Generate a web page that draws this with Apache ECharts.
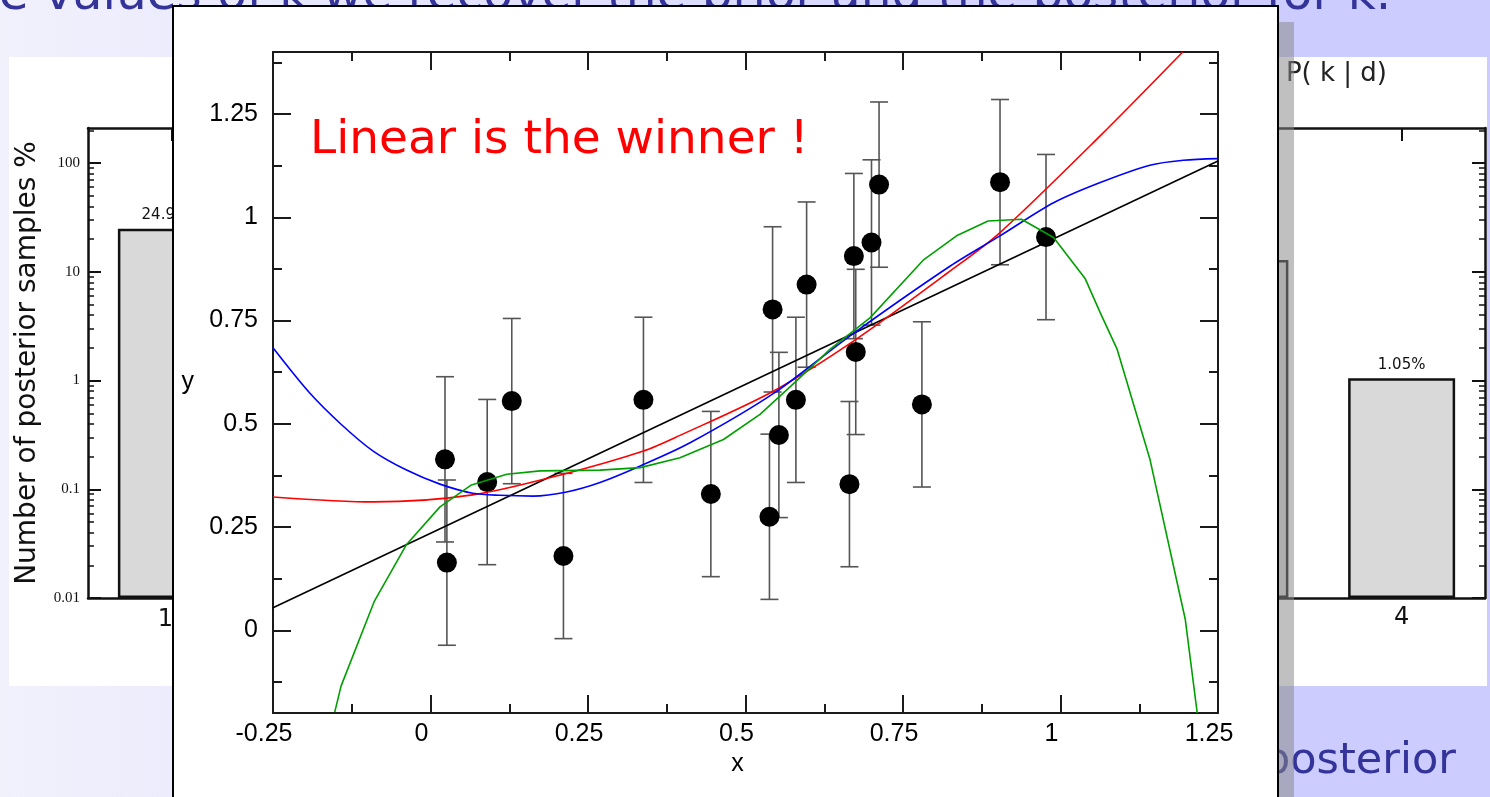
<!DOCTYPE html>
<html><head><meta charset="utf-8">
<script src="https://cdn.jsdelivr.net/npm/echarts@6/dist/echarts.min.js"></script>
<style>html,body{margin:0;padding:0;background:#fff}#c{width:1490px;height:797px}</style>
</head><body><div id="c"></div>
<script>
// ---- data ----
const pointX = [0.023, 0.026, 0.090, 0.129, 0.211, 0.338, 0.445, 0.538, 0.543, 0.553, 0.580, 0.597, 0.665, 0.672, 0.675, 0.700, 0.712, 0.780, 0.904, 0.977];
const pointY = [0.414, 0.164, 0.359, 0.555, 0.180, 0.558, 0.330, 0.275, 0.777, 0.473, 0.558, 0.837, 0.354, 0.906, 0.674, 0.939, 1.079, 0.547, 1.085, 0.952];
const pointErr = [0.2, 0.2, 0.2, 0.2, 0.2, 0.2, 0.2, 0.2, 0.2, 0.2, 0.2, 0.2, 0.2, 0.2, 0.2, 0.2, 0.2, 0.2, 0.2, 0.2];

const linearFit = [[-0.25, 0.055], [1.25, 1.136]];
const quadraticFit = [[-0.25, 0.323], [-0.09, 0.311], [0.067, 0.328], [0.211, 0.378], [0.338, 0.434], [0.396, 0.472], [0.544, 0.579], [0.676, 0.705], [0.825, 0.870], [0.904, 0.963], [1.063, 1.197], [1.194, 1.40]];
const cubicFit = [[-0.25, 0.684], [-0.192, 0.575], [-0.142, 0.499], [-0.091, 0.434], [-0.038, 0.388], [0.015, 0.354], [0.067, 0.332], [0.110, 0.327], [0.163, 0.325], [0.216, 0.335], [0.269, 0.358], [0.333, 0.398], [0.412, 0.454], [0.544, 0.573], [0.666, 0.713], [0.825, 0.882], [0.904, 0.955], [0.989, 1.035], [1.063, 1.084], [1.142, 1.126], [1.195, 1.138], [1.25, 1.142]];
const highOrderFit = [[-0.152, -0.198], [-0.142, -0.135], [-0.089, 0.071], [-0.038, 0.208], [0.015, 0.299], [0.065, 0.352], [0.121, 0.378], [0.174, 0.386], [0.269, 0.388], [0.333, 0.394], [0.396, 0.418], [0.465, 0.462], [0.523, 0.523], [0.581, 0.604], [0.634, 0.680], [0.698, 0.757], [0.782, 0.896], [0.835, 0.955], [0.885, 0.991], [0.938, 0.995], [0.989, 0.951], [1.039, 0.852], [1.063, 0.769], [1.090, 0.680], [1.142, 0.414], [1.198, 0.027], [1.217, -0.20]];

const yMajorTicks = [0, 0.25, 0.5, 0.75, 1, 1.25];
const yMinorTicks = [-0.125, 0.125, 0.375, 0.625, 0.875, 1.125, 1.375];

const histCategories = ['1', '2', '3', '4'];
const leftHistPercent = [24.9, null, null, null];
const rightHistPercent = [null, null, 12.8, 1.05];
const logTicks = [0.01, 0.1, 1, 10, 100];
const logMinorTicks = [0.02, 0.03, 0.04, 0.05, 0.06, 0.07, 0.08, 0.09, 0.2, 0.3, 0.4, 0.5, 0.6, 0.7, 0.8, 0.9, 2, 3, 4, 5, 6, 7, 8, 9, 20, 30, 40, 50, 60, 70, 80, 90, 200];

const annotationText = 'Linear is the winner !';
const slideTitle = 'the values of k we recover the prior and the posterior for k.';
const slideBottom = 'posterior';
const histTitle = 'P( k | d)';
const histAxisName = 'Number of posterior samples %';

// ---- chart ----
const chart = echarts.init(document.getElementById('c'), null, {renderer: 'canvas'});
const AX = '#1a1a1a';
const FONT = '"Liberation Sans", Arial, sans-serif';
const DJ = '"DejaVu Sans", sans-serif';

function mainY(extra) {
  return Object.assign({
    type: 'value', gridIndex: 0, min: -0.2, max: 1.4, z: 10,
    splitLine: {show: false},
    axisLine: {show: false, onZero: false},
    axisLabel: {show: false},
    axisTick: {show: true, inside: true, length: 18, customValues: yMajorTicks, lineStyle: {color: AX, width: 2}}
  }, extra);
}
function mainX(extra) {
  return Object.assign({
    type: 'value', gridIndex: 0, min: -0.25, max: 1.25, interval: 0.25, z: 10,
    splitLine: {show: false},
    axisLine: {show: true, onZero: false, lineStyle: {color: AX, width: 2}},
    axisTick: {show: true, inside: true, length: 18, lineStyle: {color: AX, width: 2}},
    minorTick: {show: true, splitNumber: 2, length: 9, lineStyle: {color: AX, width: 2}},
    axisLabel: {show: false}
  }, extra);
}
function histX(grid, extra) {
  return Object.assign({
    type: 'category', gridIndex: grid, data: histCategories, z: 1,
    axisLine: {show: true, onZero: false, lineStyle: {color: '#111', width: 2.5}},
    axisTick: {show: true, inside: true, alignWithLabel: true, length: 13, lineStyle: {color: '#111', width: 2}},
    axisLabel: {show: false},
    splitLine: {show: false}
  }, extra);
}
function histY(grid, extra) {
  return Object.assign({
    type: 'log', logBase: 10, gridIndex: grid, min: 0.01, max: 210, startValue: 0.01, z: 1,
    splitLine: {show: false},
    axisLine: {show: false, onZero: false},
    axisLabel: {show: false},
    axisTick: {show: true, inside: true, length: 13, customValues: logTicks, lineStyle: {color: '#111', width: 2}}
  }, extra);
}
const minorHistTick = {show: true, inside: true, length: 6, customValues: logMinorTicks, lineStyle: {color: '#111', width: 1.5}};
const minorMainTick = {show: true, inside: true, length: 9, customValues: yMinorTicks, lineStyle: {color: AX, width: 2}};

function renderErrorBar(params, api) {
  const x = api.value(0), y = api.value(1), e = api.value(2);
  const hi = api.coord([x, y + e]);
  const lo = api.coord([x, y - e]);
  const cap = 9;
  const st = {stroke: '#555', lineWidth: 1.6};
  return {type: 'group', children: [
    {type: 'line', shape: {x1: hi[0], y1: hi[1], x2: lo[0], y2: lo[1]}, style: st},
    {type: 'line', shape: {x1: hi[0] - cap, y1: hi[1], x2: hi[0] + cap, y2: hi[1]}, style: st},
    {type: 'line', shape: {x1: lo[0] - cap, y1: lo[1], x2: lo[0] + cap, y2: lo[1]}, style: st}
  ]};
}

function fitLine(data, color, smooth) {
  return {type: 'line', xAxisIndex: 0, yAxisIndex: 0, data: data, showSymbol: false, symbol: 'none',
    smooth: smooth, z: 13, clip: true, lineStyle: {color: color, width: 1.6}, animation: false};
}

const option = {
  animation: false,
  backgroundColor: '#fff',
  grid: [
    {left: 273, top: 52, width: 945, height: 661, outerBoundsMode: 'none', containLabel: false},
    {left: 88, top: 128, width: 667, height: 470, outerBoundsMode: 'none', containLabel: false},
    {left: 818, top: 128, width: 667, height: 470, outerBoundsMode: 'none', containLabel: false}
  ],
  xAxis: [
    mainX({position: 'bottom',
      axisLabel: {show: true, fontSize: 25, fontFamily: FONT, color: '#000', margin: 9, padding: [0, 18, 0, 0]},
      name: 'x', nameLocation: 'middle', nameGap: 39, nameMoveOverlap: false,
      nameTextStyle: {fontSize: 25, fontFamily: FONT, color: '#000', padding: [0, 16, 0, 0]}}),
    mainX({position: 'top'}),
    histX(1, {position: 'bottom', axisLabel: {show: true, fontSize: 24, fontFamily: DJ, color: '#111', margin: 10, padding: [0, 12, 0, 0]}}),
    histX(1, {position: 'top'}),
    histX(2, {position: 'bottom', axisLabel: {show: true, fontSize: 24, fontFamily: DJ, color: '#111', margin: 8}}),
    histX(2, {position: 'top'})
  ],
  yAxis: [
    mainY({position: 'left', axisLine: {show: true, onZero: false, lineStyle: {color: AX, width: 2}},
      axisLabel: {show: true, customValues: yMajorTicks, fontSize: 25, fontFamily: FONT, color: '#000', margin: 15},
      name: 'y', nameLocation: 'middle', nameRotate: 0, nameGap: 79, nameMoveOverlap: false,
      nameTextStyle: {fontSize: 25, fontFamily: FONT, color: '#000'}}),
    mainY({position: 'left', axisTick: minorMainTick}),
    mainY({position: 'right', axisLine: {show: true, onZero: false, lineStyle: {color: AX, width: 2}}}),
    mainY({position: 'right', axisTick: minorMainTick}),
    histY(1, {position: 'left', axisLine: {show: true, onZero: false, lineStyle: {color: '#111', width: 2.5}},
      axisLabel: {show: true, customValues: logTicks, fontSize: 15, fontFamily: '"Liberation Serif", serif', color: '#111', margin: 8},
      name: histAxisName, nameLocation: 'middle', nameRotate: 90, nameGap: 46, nameMoveOverlap: false,
      nameTextStyle: {fontSize: 28, fontFamily: DJ, color: '#111'}}),
    histY(1, {position: 'left', axisTick: minorHistTick}),
    histY(2, {position: 'left', axisLine: {show: true, onZero: false, lineStyle: {color: '#111', width: 2.5}},
      axisLabel: {show: true, customValues: logTicks, fontSize: 15, fontFamily: '"Liberation Serif", serif', color: '#111', margin: 8}}),
    histY(2, {position: 'right', axisLine: {show: true, onZero: false, lineStyle: {color: '#111', width: 2.5}}}),
    histY(2, {position: 'right', axisTick: minorHistTick})
  ],
  graphic: [
    {type: 'rect', z: -10, silent: true, shape: {x: 0, y: 0, width: 1490, height: 797},
      style: {fill: {type: 'linear', x: 0, y: 0, x2: 1, y2: 0, colorStops: [
        {offset: 0, color: '#f1f1fc'}, {offset: 0.85, color: '#ccccff'}, {offset: 1, color: '#ccccff'}]}}},
    {type: 'text', z: -9, silent: true, x: -51, y: -4,
      style: {text: slideTitle, fill: '#333399', font: '48.5px ' + DJ, align: 'left', textAlign: 'left', verticalAlign: 'middle', textVerticalAlign: 'middle'}},
    {type: 'text', z: -9, silent: true, x: 1263, y: 762,
      style: {text: slideBottom, fill: '#333399', font: '43px ' + DJ, align: 'left', textAlign: 'left', verticalAlign: 'middle', textVerticalAlign: 'middle'}},
    {type: 'rect', z: -8, silent: true, shape: {x: 9, y: 57, width: 1478, height: 629}, style: {fill: '#fff'}},
    {type: 'text', z: -7, silent: true, x: 1387, y: 74,
      style: {text: histTitle, fill: '#222', font: '26px ' + DJ, align: 'right', textAlign: 'right', verticalAlign: 'middle', textVerticalAlign: 'middle'}},
    {type: 'rect', z: 4, silent: true, shape: {x: 1278, y: 22, width: 16, height: 775}, style: {fill: 'rgba(136,136,136,0.53)'}},
    {type: 'rect', z: 5, silent: true, shape: {x: 173, y: 6, width: 1105, height: 830}, style: {fill: '#fff', stroke: '#000', lineWidth: 2}},
    {type: 'text', z: 14, silent: true, x: 310, y: 141,
      style: {text: annotationText, fill: '#ff0000', font: '47px ' + DJ, align: 'left', textAlign: 'left', verticalAlign: 'middle', textVerticalAlign: 'middle'}}
  ],
  series: [
    {type: 'bar', xAxisIndex: 2, yAxisIndex: 4, data: leftHistPercent, barWidth: 107, z: 2,
      itemStyle: {color: '#d9d9d9', borderColor: '#111', borderWidth: 2.5},
      label: {show: true, position: 'top', distance: 6, offset: [-6, 0], formatter: '{c}%', fontSize: 15, fontFamily: DJ, color: '#111'}},
    {type: 'bar', xAxisIndex: 4, yAxisIndex: 6, data: rightHistPercent, barWidth: 107, z: 2,
      itemStyle: {color: '#d9d9d9', borderColor: '#111', borderWidth: 2.5},
      label: {show: true, position: 'top', distance: 6, formatter: '{c}%', fontSize: 15, fontFamily: DJ, color: '#111'}},
    {type: 'custom', xAxisIndex: 0, yAxisIndex: 0, z: 11, renderItem: renderErrorBar,
      encode: {x: 0, y: 1}, data: pointX.map((x, i) => [x, pointY[i], pointErr[i]])},
    {type: 'scatter', xAxisIndex: 0, yAxisIndex: 0, z: 12, symbolSize: 20,
      itemStyle: {color: '#000', opacity: 1}, data: pointX.map((x, i) => [x, pointY[i]])},
    fitLine(linearFit, '#000000', false),
    fitLine(quadraticFit, '#ff0000', 0.3),
    fitLine(cubicFit, '#0000ff', 0.3),
    fitLine(highOrderFit, '#00a000', false)
  ]
};
chart.setOption(option);
</script>
</body></html>
